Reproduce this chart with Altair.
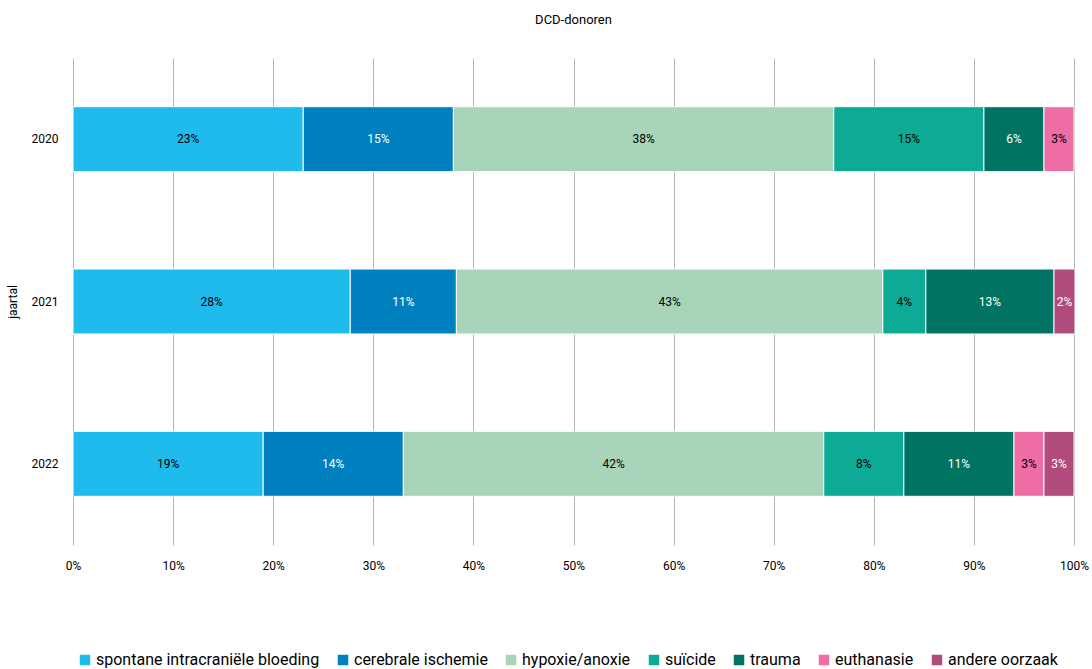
import altair as alt
import pandas as pd

years = ["2020", "2021", "2022"]
causes = ["spontane intracraniële bloeding", "cerebrale ischemie", "hypoxie/anoxie",
          "suïcide", "trauma", "euthanasie", "andere oorzaak"]
colors = ["#1FBBEC", "#0081BF", "#A8D5BA", "#0DAA95", "#017362", "#EE6DA5", "#B04B7B"]
text_colors = ["#000000", "#FFFFFF", "#000000", "#000000", "#FFFFFF", "#000000", "#FFFFFF"]

v2020 = [23, 15, 38, 15, 6, 3, 0]
v2021 = [27.7, 10.6, 42.6, 4.3, 12.8, 0, 2.1]
v2022 = [19, 14, 42, 8, 11, 3, 3]
values = {"2020": v2020, "2021": v2021, "2022": v2022}

rows = []
for y in years:
    for i, c in enumerate(causes):
        v = values[y][i]
        if v > 0:
            rows.append({"year": y, "cause": c, "order": i, "value": v,
                         "label": f"{round(v)}%", "tc": text_colors[i]})
df = pd.DataFrame(rows)

FONT = "Roboto"

base = alt.Chart(df).transform_stack(
    stack="value", groupby=["year"], as_=["x0", "x1"],
    sort=[alt.SortField("order", order="ascending")]
).transform_calculate(mid="(datum.x0 + datum.x1) / 2")

yenc = alt.Y("year:N", sort=years,
             scale=alt.Scale(paddingInner=0.6, paddingOuter=0.3),
             axis=alt.Axis(title="jaartal", titleFontWeight="normal", titleFontSize=12,
                           titleFont=FONT, titleColor="#000", titlePadding=12,
                           labelFont=FONT, labelFontSize=12, labelColor="#000",
                           labelPadding=15, ticks=False, domain=False, grid=False))

bars = base.mark_bar(stroke="white", strokeWidth=1).encode(
    x=alt.X("x0:Q", scale=alt.Scale(domain=[0, 100], nice=False),
            axis=alt.Axis(title=None, values=list(range(0, 101, 10)),
                          labelExpr="datum.value + '%'", grid=True, labelFlush=False,
                          gridColor="#b5b5b5", gridWidth=1, domain=False, ticks=False,
                          labelPadding=15, labelFont=FONT, labelFontSize=12,
                          labelColor="#000")),
    x2="x1:Q",
    y=yenc,
    color=alt.Color("cause:N", sort=causes,
                    scale=alt.Scale(domain=causes, range=colors),
                    legend=alt.Legend(title=None, orient="none", direction="horizontal",
                                      legendX=4, legendY=594, symbolType="square",
                                      symbolSize=110, symbolStrokeWidth=0,
                                      labelFont=FONT, labelFontSize=16, labelColor="#000",
                                      labelLimit=0, columnPadding=15, labelOffset=3,
                                      columns=7)),
    order=alt.Order("order:Q"),
)

text = base.mark_text(font=FONT, fontSize=12).encode(
    x="mid:Q",
    y=alt.Y("year:N", sort=years),
    text="label:N",
    color=alt.Color("tc:N", scale=None),
)

chart = alt.layer(bars, text).resolve_scale(color="independent").properties(
    width=1001, height=487,
    title=alt.Title("DCD-donoren", font=FONT, fontSize=13, fontWeight="normal",
                    color="#000", offset=31, anchor="middle"),
    autosize=alt.AutoSizeParams(type="none"),
    padding={"left": 73, "top": 58, "right": 18, "bottom": 124},
).configure_view(stroke=None)

chart.save("out.html", embed_options={"renderer": "svg", "actions": False})
